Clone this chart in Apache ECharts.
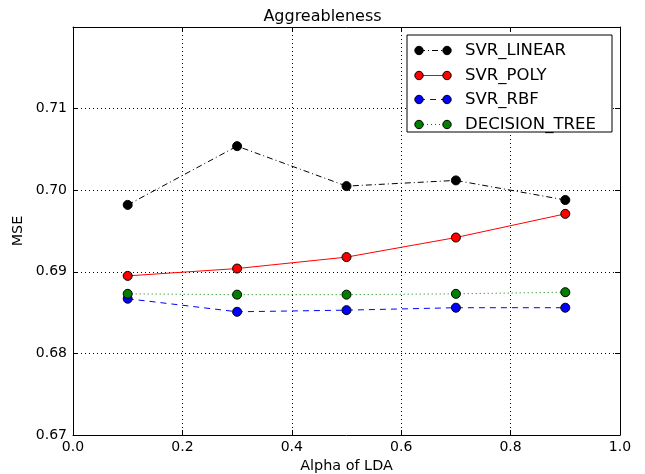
<!DOCTYPE html>
<html>
<head>
<meta charset="utf-8">
<script src="https://cdn.jsdelivr.net/npm/echarts@6/dist/echarts.min.js"></script>
<style>
  html, body { margin: 0; padding: 0; background: #fff; }
  #chart { width: 645px; height: 474px; }
</style>
</head>
<body>
<div id="chart"></div>
<script>
// LDA alpha values on the x axis
const alphas = [0.1, 0.3, 0.5, 0.7, 0.9];

// Mean squared error per model
const svrLinear = [0.6982, 0.7054, 0.7005, 0.7012, 0.6988];
const svrPoly = [0.6895, 0.6904, 0.6918, 0.6942, 0.6971];
const svrRbf = [0.6867, 0.6851, 0.6853, 0.6856, 0.6856];
const decisionTree = [0.6873, 0.6872, 0.6872, 0.6873, 0.6875];

const seriesNames = ['SVR_LINEAR', 'SVR_POLY', 'SVR_RBF', 'DECISION_TREE'];
const seriesValues = [svrLinear, svrPoly, svrRbf, decisionTree];
const seriesColors = ['#000000', '#ff0000', '#0000ff', '#007f00'];
const seriesDash = [[6, 3, 1, 3], 'solid', [6, 5], [1, 3]];

const FONT = 'DejaVu Sans';

const chart = echarts.init(document.getElementById('chart'), null, { renderer: 'canvas' });

const gridLine = { show: true, lineStyle: { color: '#000', type: [1, 3], width: 1 } };
const innerTick = { show: true, inside: true, length: 5, lineStyle: { color: '#000' } };
const frameLine = { show: true, onZero: false, lineStyle: { color: '#000', width: 1 } };

// Boxed legend in the upper right: short line with a marker at each end, then the name
const legendLeft = 407, legendTop = 35, legendW = 205, legendH = 97;
const legendRow0 = 50, legendRowGap = 24.7;
const legendItems = [{
  type: 'rect',
  shape: { x: legendLeft, y: legendTop, width: legendW, height: legendH },
  style: { fill: '#fff', stroke: '#000', lineWidth: 1 },
  z: 10
}];
seriesNames.forEach((name, i) => {
  const y = Math.round(legendRow0 + i * legendRowGap) + 0.5;
  legendItems.push({
    type: 'line',
    shape: { x1: 419, y1: y, x2: 447, y2: y },
    style: { stroke: seriesColors[i], lineWidth: 1,
      lineDash: seriesDash[i] === 'solid' ? null : seriesDash[i] },
    z: 11
  });
  [419, 447].forEach(cx => legendItems.push({
    type: 'circle',
    shape: { cx, cy: y, r: 4.2 },
    style: { fill: seriesColors[i], stroke: '#000', lineWidth: 1 },
    z: 12
  }));
  legendItems.push({
    type: 'text',
    x: 465, y,
    style: { text: name, fontFamily: FONT, fontSize: 16.5, fill: '#000', verticalAlign: 'middle' },
    z: 12
  });
});

chart.setOption({
  animation: false,
  backgroundColor: '#fff',
  title: {
    text: 'Aggreableness',
    left: 'center',
    top: 4,
    textStyle: { fontFamily: FONT, fontSize: 16, fontWeight: 'normal', color: '#000' }
  },
  grid: { left: 73, top: 27, right: 25, bottom: 39, containLabel: false, outerBoundsMode: 'none' },
  xAxis: [
    {
      type: 'value', min: 0, max: 1, interval: 0.2,
      name: 'Alpha of LDA', nameLocation: 'middle', nameGap: 24,
      nameTextStyle: { fontFamily: FONT, fontSize: 14.4, color: '#000' },
      axisLine: frameLine, axisTick: innerTick,
      axisLabel: { fontFamily: FONT, fontSize: 14, color: '#000', margin: 5,
        formatter: v => v.toFixed(1) },
      splitLine: gridLine
    },
    {
      type: 'value', min: 0, max: 1, interval: 0.2, position: 'top',
      axisLine: frameLine, axisTick: innerTick, axisLabel: { show: false }, splitLine: { show: false }
    }
  ],
  yAxis: [
    {
      type: 'value', min: 0.67, max: 0.72, interval: 0.01,
      name: 'MSE', nameLocation: 'middle', nameGap: 43, nameRotate: 90,
      nameTextStyle: { fontFamily: FONT, fontSize: 14.4, color: '#000' },
      axisLine: frameLine, axisTick: innerTick,
      axisLabel: { fontFamily: FONT, fontSize: 14, color: '#000', margin: 6, showMaxLabel: false,
        formatter: v => v.toFixed(2) },
      splitLine: gridLine
    },
    {
      type: 'value', min: 0.67, max: 0.72, interval: 0.01, position: 'right',
      axisLine: frameLine, axisTick: innerTick, axisLabel: { show: false }, splitLine: { show: false }
    }
  ],
  graphic: legendItems,
  series: seriesNames.map((name, i) => ({
    name,
    type: 'line',
    xAxisIndex: 0,
    yAxisIndex: 0,
    data: alphas.map((a, j) => [a, seriesValues[i][j]]),
    symbol: 'circle',
    symbolSize: 9,
    showAllSymbol: true,
    itemStyle: { color: seriesColors[i], borderColor: '#000', borderWidth: 1 },
    lineStyle: { color: seriesColors[i], width: 1, type: seriesDash[i] },
    emphasis: { disabled: true },
    z: 3
  }))
});
</script>
</body>
</html>
